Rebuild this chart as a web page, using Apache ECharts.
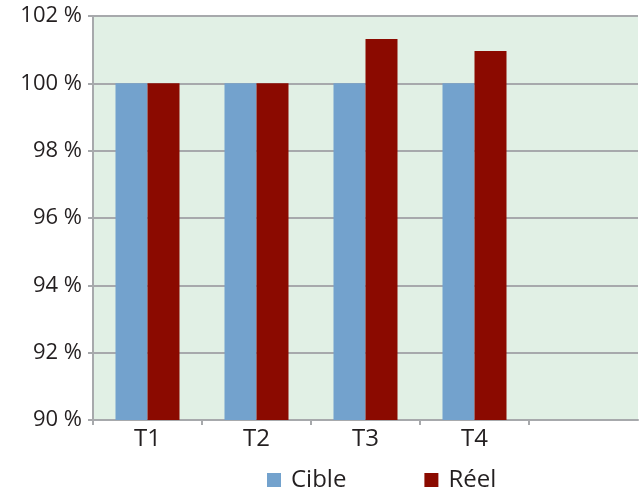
<!DOCTYPE html>
<html>
<head>
<meta charset="utf-8">
<script src="https://cdn.jsdelivr.net/npm/echarts@6/dist/echarts.min.js"></script>
<style>
  html, body { margin: 0; padding: 0; background: #ffffff; }
  #chart { width: 642px; height: 493px; }
</style>
</head>
<body>
<div id="chart"></div>
<script>
// Quarterly target vs. actual, in percent
const categories = ['T1', 'T2', 'T3', 'T4', ''];
const cible = [100, 100, 100, 100];
const reel = [100, 100, 101.32, 100.96];
const yTicks = { min: 90, max: 102, step: 2 };

const textColor = '#231f20';
const lineColor = '#a7a9ac';
const fontFamily = '"Open Sans", "DejaVu Sans", sans-serif';

// category boundaries that carry a tick mark (none at the far right end)
const boundaryTicks = categories.map(function (_, i) { return i; });

const chart = echarts.init(document.getElementById('chart'));
chart.setOption({
  animation: false,
  textStyle: { fontFamily: fontFamily, color: textColor },
  grid: {
    left: 93, right: 4, top: 16, bottom: 73,
    show: true, backgroundColor: '#e1f0e5', borderWidth: 0,
    containLabel: false
  },
  legend: {
    top: 468,
    left: 267,
    padding: 0,
    itemWidth: 14,
    itemHeight: 14,
    itemGap: 78,
    icon: 'rect',
    textStyle: { fontSize: 24, color: textColor, fontFamily: fontFamily, padding: [0, 0, 0, 5] },
    data: ['Cible', 'Réel']
  },
  xAxis: [
    {
      type: 'category',
      data: categories,
      boundaryGap: true,
      axisLine: { show: true, lineStyle: { color: lineColor, width: 2 } },
      axisTick: { show: false },
      axisLabel: { fontSize: 24, color: textColor, margin: 7 },
      splitLine: { show: false }
    },
    {
      // helper axis that only draws the boundary tick marks
      type: 'value',
      position: 'bottom',
      min: 0,
      max: categories.length,
      axisLine: { show: false },
      axisLabel: { show: false },
      splitLine: { show: false },
      axisTick: {
        show: true, length: 5,
        customValues: boundaryTicks,
        lineStyle: { color: lineColor, width: 2 }
      }
    }
  ],
  yAxis: {
    type: 'value',
    min: yTicks.min,
    max: yTicks.max,
    interval: yTicks.step,
    axisLine: { show: true, lineStyle: { color: lineColor, width: 2 } },
    axisTick: { show: true, length: 5, lineStyle: { color: lineColor, width: 2 } },
    axisLabel: { fontSize: 22, color: textColor, margin: 11, formatter: '{value} %' },
    splitLine: { show: true, lineStyle: { color: lineColor, width: 2 } }
  },
  series: [
    {
      name: 'Cible', type: 'bar', data: cible, xAxisIndex: 0,
      barWidth: 32, barGap: '0%',
      itemStyle: { color: '#73a2cd' }
    },
    {
      name: 'Réel', type: 'bar', data: reel, xAxisIndex: 0,
      barWidth: 32, barGap: '0%',
      itemStyle: { color: '#8b0a00' }
    }
  ]
});
</script>
</body>
</html>
